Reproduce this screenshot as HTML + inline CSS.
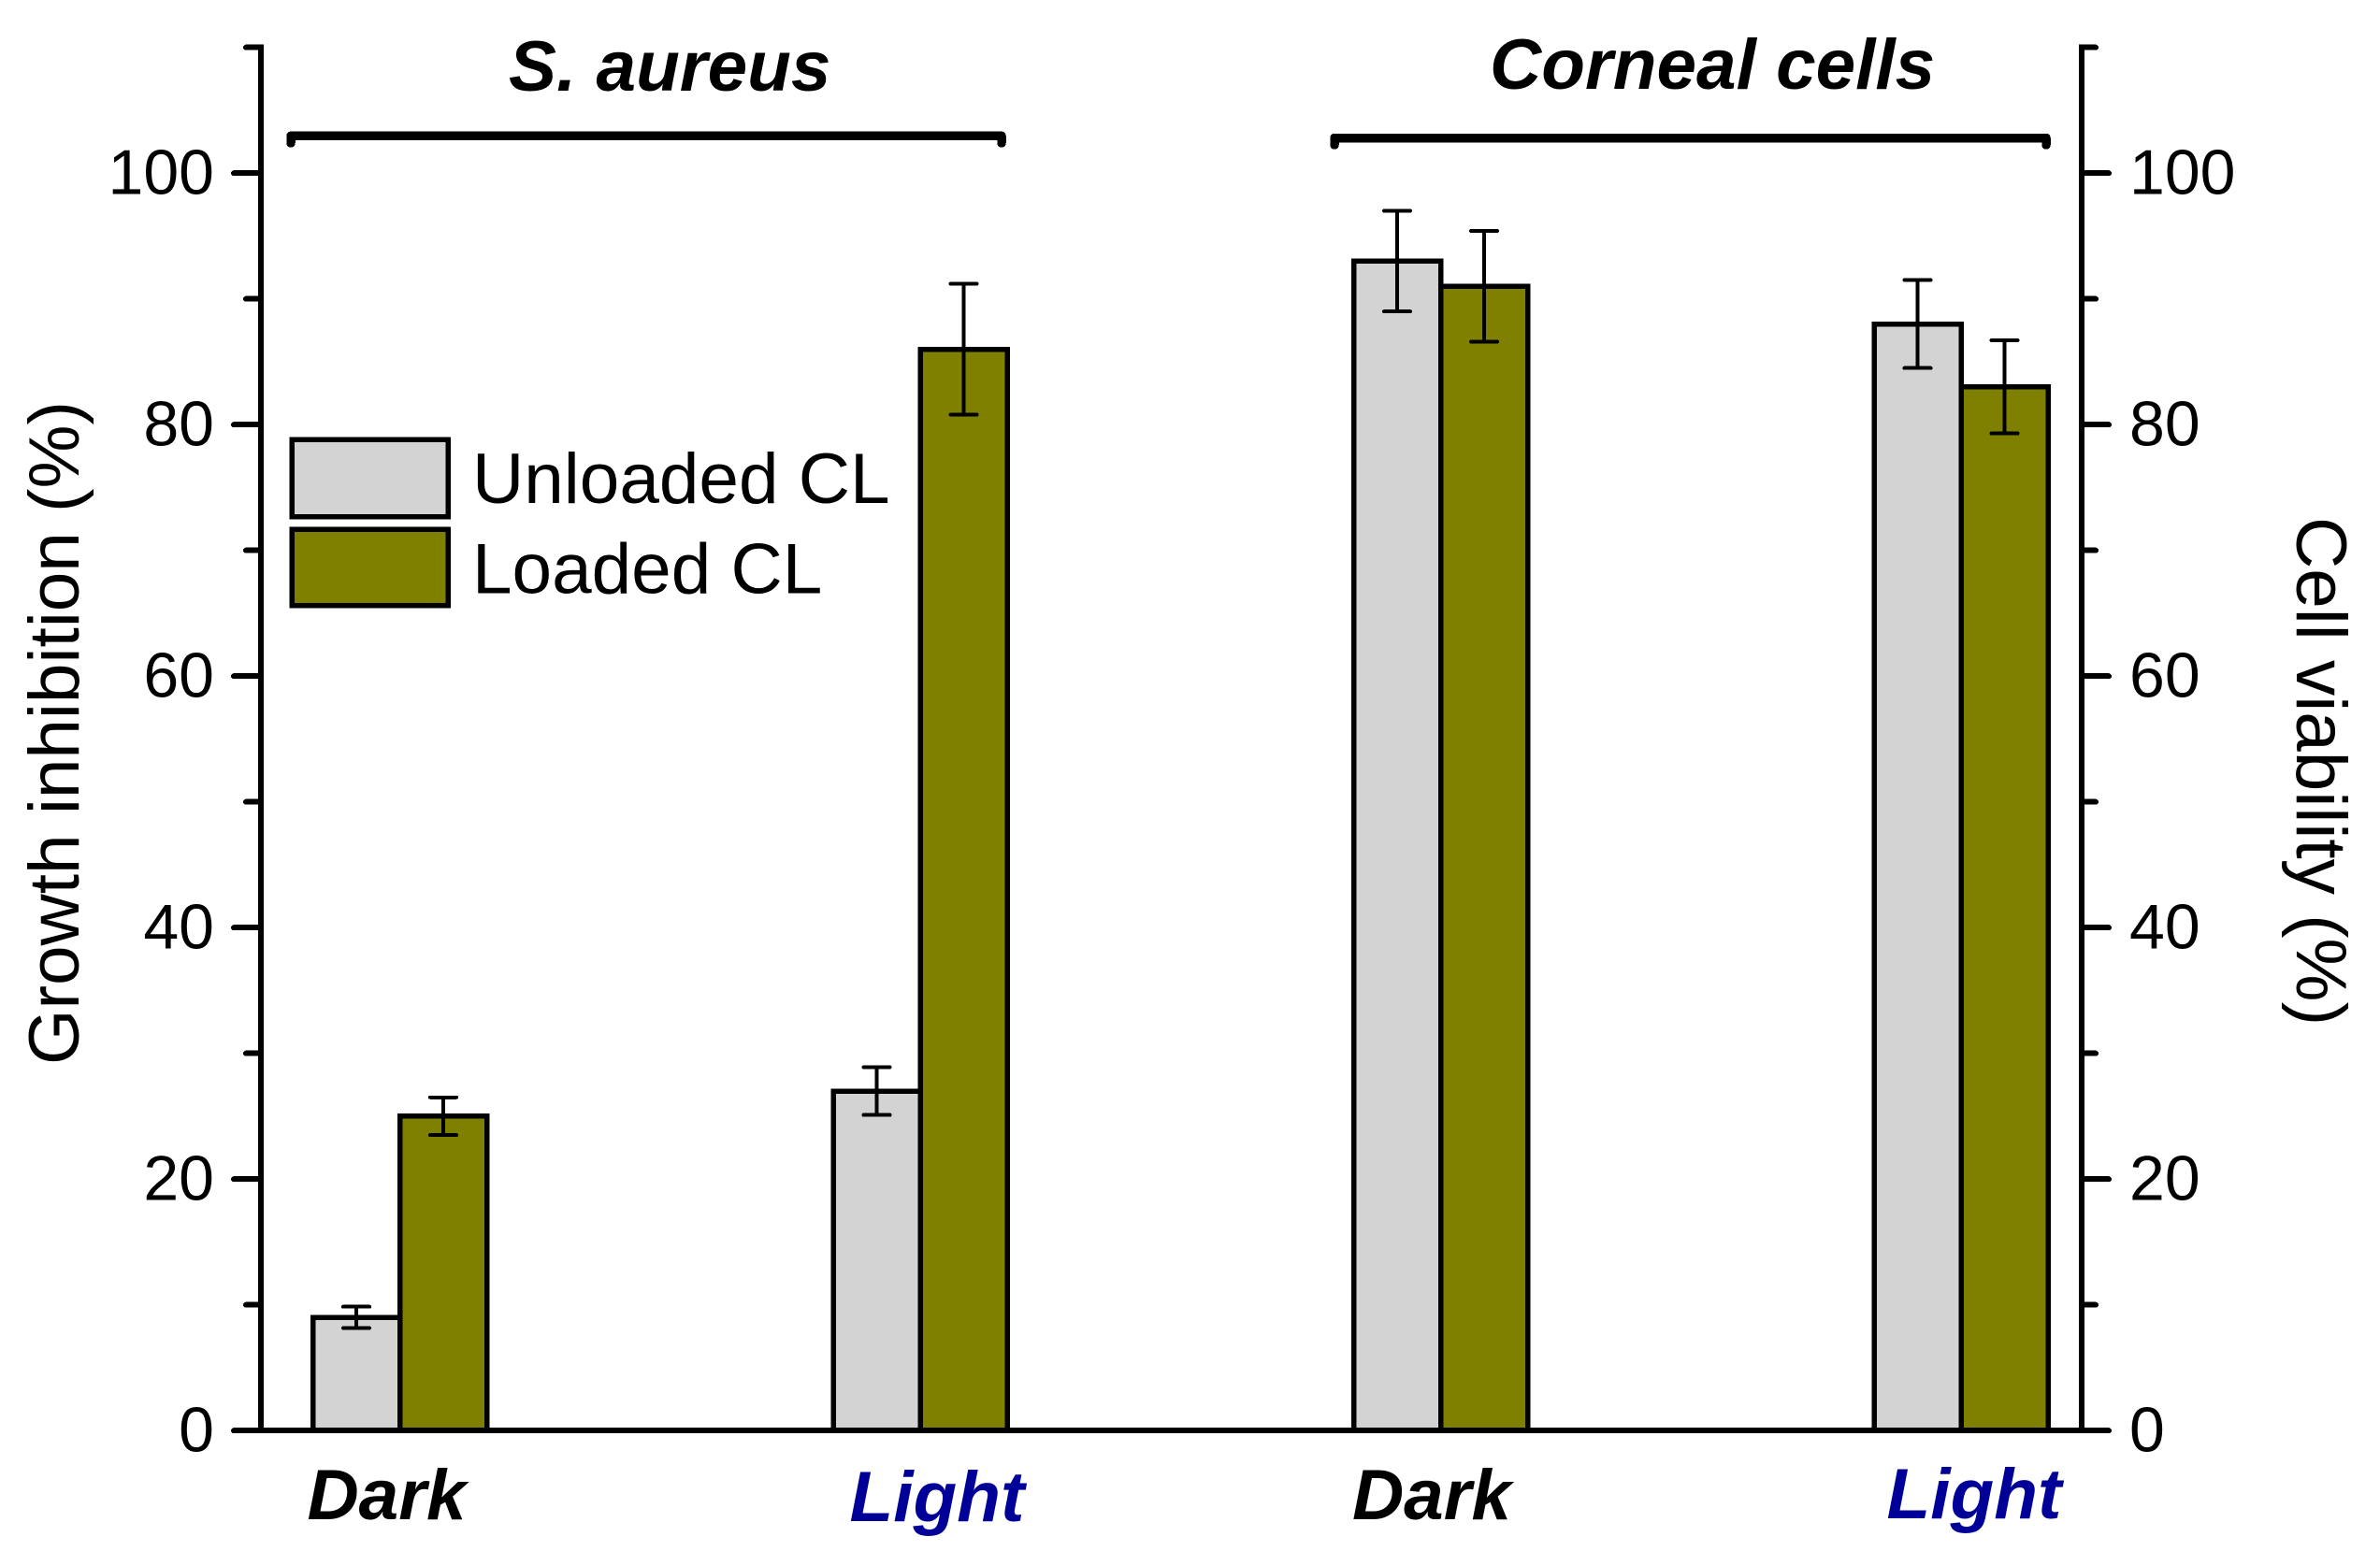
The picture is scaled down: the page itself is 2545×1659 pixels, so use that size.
<!DOCTYPE html>
<html lang="en">
<head>
<meta charset="utf-8">
<title>Growth inhibition and cell viability</title>
<style>
  html, body { margin: 0; padding: 0; background: #ffffff; }
  svg { display: block; }
  text { font-family: "Liberation Sans", Arial, sans-serif; fill: #000000; }
  .tick { font-size: 68px; }
  .title { font-size: 76.5px; }
  .head { font-size: 76.5px; font-weight: bold; font-style: italic; }
  .cat { font-size: 76.5px; font-weight: bold; font-style: italic; }
  .legend { font-size: 76.5px; }
</style>
</head>
<body>
<svg id="chart" xmlns="http://www.w3.org/2000/svg" width="2545" height="1659" viewBox="0 0 2545 1659" shape-rendering="crispEdges">
  <rect x="0" y="0" width="2545" height="1659" fill="#ffffff"/>
  <g id="bars"></g>
  <g id="errors"></g>
  <g id="axes"></g>

  <text class="title" transform="translate(84 784) rotate(-90)" text-anchor="middle">Growth inhibition (%)</text>
  <text class="title" transform="translate(2456 825) rotate(90)" text-anchor="middle">Cell viability (%)</text>

  <text class="head" x="544" y="97">S. aureus</text>
  <text class="head" x="1593" y="95">Corneal cells</text>

  <path d="M311 153V145.3H1071V153" fill="none" stroke="#000" stroke-width="9.5" stroke-linecap="round" stroke-linejoin="round"/>
  <path d="M1427 155V147.5H2188V155" fill="none" stroke="#000" stroke-width="9.5" stroke-linecap="round" stroke-linejoin="round"/>

  <g>
    <rect x="312" y="470" width="167" height="82.5" fill="#d3d3d3" stroke="#000" stroke-width="5.5"/>
    <text class="legend" x="505" y="538">Unloaded CL</text>
    <rect x="312" y="566" width="167" height="81.5" fill="#808000" stroke="#000" stroke-width="5.5"/>
    <text class="legend" x="505" y="634.5">Loaded CL</text>
  </g>
  <g id="categories"></g>
</svg>

<script>
// Chart data
const categories = ["Dark", "Light", "Dark", "Light"];
const unloadedValues = [9, 27, 93, 88];
const loadedValues = [25, 86, 91, 83];
const unloadedErrors = [0.85, 1.9, 4, 3.5];
const loadedErrors = [1.5, 5.2, 4.4, 3.7];
const majorTicks = [0, 20, 40, 60, 80, 100];
const minorTicks = [10, 30, 50, 70, 90, 110];
const tickLabels = ["0", "20", "40", "60", "80", "100"];

// Axis functions
const PLOT_BOTTOM = 1530.2;
const UNIT = 13.45;
const BAR_WIDTH = 93;
function yScale(v) { return PLOT_BOTTOM - v * UNIT; }
function xScale(i) { return 427.5 + 556.5 * i; }

const NS = "http://www.w3.org/2000/svg";
function mk(parent, tag, props) {
  const el = document.createElementNS(NS, tag);
  for (const k in props) el.setAttribute(k, props[k]);
  parent.appendChild(el);
  return el;
}

const barsG = document.getElementById("bars");
const errG = document.getElementById("errors");
const axesG = document.getElementById("axes");
const catG = document.getElementById("categories");

function drawBar(i, value, left, fill, seriesName) {
  const top = yScale(value);
  const bar = mk(barsG, "rect", {
    x: left, y: top, width: BAR_WIDTH, height: PLOT_BOTTOM - top,
    fill: fill, stroke: "#000", "stroke-width": 5.5
  });
  
  
}

function drawError(i, value, err, cx, seriesName) {
  const hi = yScale(value + err);
  const lo = yScale(value - err);
  const d = "M" + cx + " " + hi + "V" + lo +
            "M" + (cx - 14) + " " + hi + "H" + (cx + 14) +
            "M" + (cx - 14) + " " + lo + "H" + (cx + 14);
  const e = mk(errG, "path", { d: d, fill: "none", stroke: "#000", "stroke-width": 4, "stroke-linecap": "round" });
  
  
}

function labelDx(i) {
  if (i === 0) return -14;
  if (i === 1) return 18;
  if (i === 2) return -9.5;
  return 14;
}
function labelY(i) {
  if (i === 1) return 1627;
  if (i === 3) return 1624;
  return 1625;
}

categories.forEach(function (name, i) {
  const c = xScale(i);
  drawBar(i, unloadedValues[i], c - BAR_WIDTH, "#d3d3d3", "unloaded");
  drawBar(i, loadedValues[i], c, "#808000", "loaded");
  drawError(i, unloadedValues[i], unloadedErrors[i], c - BAR_WIDTH / 2, "unloaded");
  drawError(i, loadedValues[i], loadedErrors[i], c + BAR_WIDTH / 2, "loaded");
  const t = mk(catG, "text", {
    "class": "cat", x: c + labelDx(i), y: labelY(i), "text-anchor": "middle",
    style: name === "Light" ? "fill:#000099" : "fill:#000000"
  });
  t.textContent = name;
  
  
});

// Axes
const LEFT_X = 279;
const RIGHT_X = 2226;
const AXIS_W = 6;

const leftAxis = mk(axesG, "line", { x1: LEFT_X, x2: LEFT_X, y1: yScale(110) - 3, y2: PLOT_BOTTOM, stroke: "#000", "stroke-width": AXIS_W });



const rightAxis = mk(axesG, "line", { x1: RIGHT_X, x2: RIGHT_X, y1: yScale(110) - 3, y2: PLOT_BOTTOM, stroke: "#000", "stroke-width": AXIS_W });



const xAxis = mk(axesG, "line", { x1: 250, x2: 2255, y1: PLOT_BOTTOM, y2: PLOT_BOTTOM, stroke: "#000", "stroke-width": AXIS_W, "stroke-linecap": "round" });



majorTicks.forEach(function (v, i) {
  const y = yScale(v);
  const lt = mk(axesG, "line", { x1: 250, x2: LEFT_X, y1: y, y2: y, stroke: "#000", "stroke-width": AXIS_W, "stroke-linecap": "round" });
  
  
  const rt = mk(axesG, "line", { x1: RIGHT_X, x2: 2255, y1: y, y2: y, stroke: "#000", "stroke-width": AXIS_W, "stroke-linecap": "round" });
  
  
  const ll = mk(axesG, "text", { "class": "tick", x: 229, y: y + 22.2, "text-anchor": "end" });
  ll.textContent = tickLabels[i];
  
  
  const rl = mk(axesG, "text", { "class": "tick", x: 2277, y: y + 22.2, "text-anchor": "start" });
  rl.textContent = tickLabels[i];
  
  
});

minorTicks.forEach(function (v) {
  const y = yScale(v);
  const lt = mk(axesG, "line", { x1: 263, x2: LEFT_X, y1: y, y2: y, stroke: "#000", "stroke-width": AXIS_W, "stroke-linecap": "round" });
  
  
  const rt = mk(axesG, "line", { x1: RIGHT_X, x2: 2241, y1: y, y2: y, stroke: "#000", "stroke-width": AXIS_W, "stroke-linecap": "round" });
  
  
});
</script>
</body>
</html>
